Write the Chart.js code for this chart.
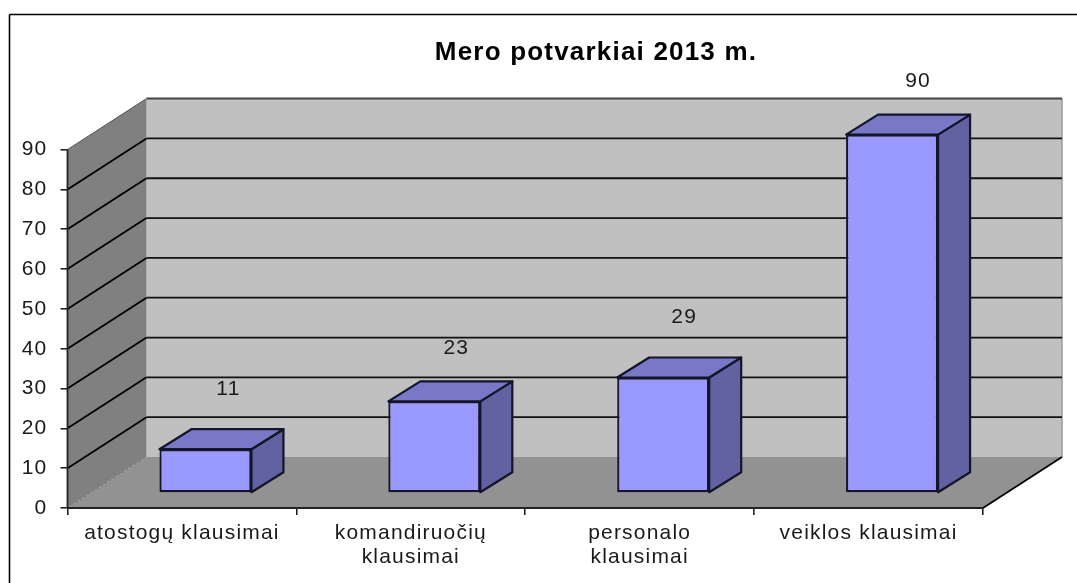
<!DOCTYPE html>
<html>
<head>
<meta charset="utf-8">
<style>html,body{margin:0;padding:0;background:#fff}canvas{display:block;filter:blur(0.4px)}</style>
<script src="https://cdn.jsdelivr.net/npm/chart.js@4"></script>
</head>
<body>
<canvas id="c" width="1077" height="583"></canvas>
<script>
const categories = ["atostogų klausimai", ["komandiruočių", "klausimai"], ["personalo", "klausimai"], "veiklos klausimai"];
const values = [11, 23, 29, 90];
const titleText = "Mero potvarkiai 2013 m.";
const yMax = 90;
const yStep = 10;

// styling / projection constants
const DEPTH_X = 79, DEPTH_Y = 51;      // wall depth
const BAR_SHIFT_X = 23.5, BAR_SHIFT_Y = 15; // bar position inside the depth
const BAR_DX = 32, BAR_DY = 20;        // bar depth
const LABEL_LIFT = [60, 53, 60, 53];
const LABEL_SHIFT = [23, 22, 21, 26];
const FONT = '"Liberation Sans", Arial, sans-serif';
const TEXT = '#1a1a1a';

function poly(ctx, pts, fill, stroke, lw) {
  ctx.beginPath();
  pts.forEach((p, i) => i ? ctx.lineTo(p[0], p[1]) : ctx.moveTo(p[0], p[1]));
  ctx.closePath();
  if (fill) { ctx.fillStyle = fill; ctx.fill(); }
  if (stroke) { ctx.strokeStyle = stroke; ctx.lineWidth = lw || 1; ctx.lineJoin = 'round'; ctx.stroke(); }
}
function line(ctx, x0, y0, x1, y1, color, lw) {
  ctx.beginPath(); ctx.moveTo(x0, y0); ctx.lineTo(x1, y1);
  ctx.strokeStyle = color; ctx.lineWidth = lw; ctx.stroke();
}

const box3d = {
  id: 'box3d',
  afterLayout(chart) {
    const t = chart.titleBlock;
    t.left += 104.5; t.right += 104.5;
  },
  beforeDraw(chart) {
    const ctx = chart.ctx;
    ctx.save();
    ctx.fillStyle = '#fff';
    ctx.fillRect(0, 0, chart.width, chart.height);
    ctx.restore();
    ctx.letterSpacing = '1.2px';
  },
  beforeDatasetsDraw(chart) {
    const ctx = chart.ctx, a = chart.chartArea, y = chart.scales.y;
    const L = a.left, R = a.right, T = a.top, B = a.bottom;
    ctx.save();
    // outer frame
    line(ctx, 9.5, 14.5, chart.width, 14.5, '#000', 1.6);
    line(ctx, 9.5, 14.5, 9.5, chart.height, '#000', 1.6);
    // back wall, side wall, floor
    poly(ctx, [[L + DEPTH_X, T - DEPTH_Y], [R + DEPTH_X, T - DEPTH_Y], [R + DEPTH_X, B - DEPTH_Y], [L + DEPTH_X, B - DEPTH_Y]], '#c0c0c0');
    poly(ctx, [[L, T], [L + DEPTH_X, T - DEPTH_Y], [L + DEPTH_X, B - DEPTH_Y], [L, B]], '#808080');
    poly(ctx, [[L, B], [L + DEPTH_X, B - DEPTH_Y], [R + DEPTH_X, B - DEPTH_Y], [R, B]], '#929292');
    line(ctx, R + DEPTH_X, T - DEPTH_Y, R + DEPTH_X, B - DEPTH_Y, '#9a9a9a', 1.5);
    // grid lines through the scale
    for (let v = yStep; v < yMax; v += yStep) {
      const py = y.getPixelForValue(v);
      line(ctx, L, py, L + DEPTH_X, py - DEPTH_Y, '#000', 1.8);
      line(ctx, L + DEPTH_X, py - DEPTH_Y, R + DEPTH_X, py - DEPTH_Y, '#111', 1.8);
    }
    line(ctx, L + DEPTH_X, T - DEPTH_Y, R + DEPTH_X, T - DEPTH_Y, '#444', 2);
    line(ctx, L, T, L + DEPTH_X, T - DEPTH_Y, '#555', 1);
    line(ctx, R, B, R + DEPTH_X, B - DEPTH_Y, '#000', 1.8);
    ctx.setLineDash([2, 3]);
    line(ctx, L, B, L + DEPTH_X, B - DEPTH_Y, '#777', 1);
    ctx.setLineDash([]);
    line(ctx, L, T, L, B, '#222', 1.8);
    line(ctx, L, B, R, B, '#222', 2.2);
    ctx.restore();
  },
  beforeDatasetDraw(chart, args) {
    const ctx = chart.ctx;
    const meta = chart.getDatasetMeta(args.index);
    ctx.save();
    ctx.translate(BAR_SHIFT_X, -BAR_SHIFT_Y);
    meta.data.forEach(bar => {
      const l = bar.x - bar.width / 2, r = bar.x + bar.width / 2, t = bar.y, b = bar.base;
      poly(ctx, [[r, t], [r + BAR_DX, t - BAR_DY], [r + BAR_DX, b - BAR_DY], [r, b]], '#6262a2', '#14142a', 2.2);
      poly(ctx, [[l, t], [l + BAR_DX, t - BAR_DY], [r + BAR_DX, t - BAR_DY], [r, t]], '#7878c6', '#14142a', 2.2);
    });
  },
  afterDatasetDraw(chart, args) {
    const ctx = chart.ctx;
    const meta = chart.getDatasetMeta(args.index);
    ctx.restore();
    ctx.save();
    ctx.font = '21px ' + FONT;
    ctx.fillStyle = TEXT;
    ctx.textAlign = 'center';
    ctx.textBaseline = 'middle';
    meta.data.forEach((bar, i) => {
      ctx.fillText(String(values[i]), bar.x + BAR_SHIFT_X + LABEL_SHIFT[i], bar.y - BAR_SHIFT_Y - LABEL_LIFT[i]);
    });
    ctx.restore();
  }
};

new Chart(document.getElementById('c'), {
  type: 'bar',
  data: {
    labels: categories,
    datasets: [{
      data: values,
      backgroundColor: '#9999ff',
      borderColor: '#14142a',
      borderWidth: 2.2,
      borderSkipped: false,
      barPercentage: 0.402,
      categoryPercentage: 1
    }]
  },
  plugins: [box3d],
  options: {
    responsive: false,
    animation: false,
    events: [],
    layout: { padding: { left: 0, right: 94, top: 0, bottom: 0 } },
    plugins: {
      legend: { display: false },
      tooltip: { enabled: false },
      title: {
        display: true,
        text: titleText,
        color: '#000',
        font: { family: FONT, size: 26, weight: 'bold', lineHeight: 1.1 },
        padding: { top: 39, bottom: 82 }
      }
    },
    scales: {
      x: {
        afterFit(s) { s.height = 75; },
        grid: { drawOnChartArea: false, drawTicks: true, tickLength: 7, color: '#222', lineWidth: 1.6, offset: true },
        border: { display: false },
        ticks: {
          color: TEXT, padding: 6, maxRotation: 0, autoSkip: false,
          font: { family: FONT, size: 21, lineHeight: 1.15 }
        }
      },
      y: {
        min: 0, max: yMax,
        afterFit(s) { s.width = 67.5; },
        grid: { drawOnChartArea: false, drawTicks: true, tickLength: 7, color: '#222', lineWidth: 1.6 },
        border: { display: false },
        ticks: {
          stepSize: yStep, color: TEXT, padding: 13,
          font: { family: FONT, size: 21 }
        }
      }
    }
  }
});
</script>
</body>
</html>
